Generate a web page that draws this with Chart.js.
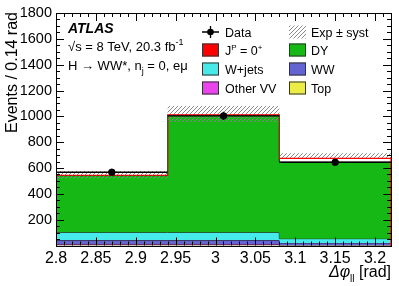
<!DOCTYPE html>
<html>
<head>
<meta charset="utf-8">
<script src="https://cdn.jsdelivr.net/npm/chart.js@4.4.0/dist/chart.umd.min.js"></script>
<style>
  html, body { margin: 0; padding: 0; background: #fff; }
</style>
</head>
<body>
<canvas id="chart" width="399" height="286"></canvas>
<script>
// bins in delta phi_ll (rad)
var binEdges = [2.8, 2.94, 3.08, 3.22];
var binCenters = [2.87, 3.01, 3.15];

// observed events
var dataCounts = [567, 1003, 644];

// stacked expectation, bottom to top
var topBkg = [4, 4, 2];
var otherVV = [7, 7, 2];
var wwBkg = [31, 31, 16];
var wjets = [60, 60, 33];
var dyBkg = [439, 906, 594];
var signal0p = [3, 3, 28];

// total expectation +- syst
var systDown = [515, 957, 672];
var systUp = [575, 1080, 714];

var xTickValues = [2.8, 2.85, 2.9, 2.95, 3, 3.05, 3.1, 3.15, 3.2];
var yTickValues = [200, 400, 600, 800, 1000, 1200, 1400, 1600, 1800];

var FONT = 'Liberation Sans, Arial, Helvetica, sans-serif';

var colGreen = 'rgb(22,184,22)';
var colCyan = 'rgb(70,234,234)';
var colBlue = 'rgb(100,100,208)';
var colMagenta = 'rgb(236,68,236)';
var colYellow = 'rgb(236,236,72)';
var colRed = 'rgb(255,0,0)';

// turn bin contents into step points (left edges + final right edge)
function steps(vals) {
    return binEdges.map(function (e, i) {
        return { x: e, y: vals[Math.min(i, vals.length - 1)] };
    });
}

var running = [0, 0, 0];
function addUp(vals) {
    running = running.map(function (r, i) { return r + vals[i]; });
    return running.slice();
}
var cumTop = addUp(topBkg);
var cumVV = addUp(otherVV);
var cumWW = addUp(wwBkg);
var cumWj = addUp(wjets);
var cumDY = addUp(dyBkg);
var cumSig = addUp(signal0p);

var sigOutline = [{ x: binEdges[0], y: 0 }].concat(steps(cumSig), [{ x: binEdges[binEdges.length - 1], y: 0 }]);

// hatch pattern for the syst band
function makeHatch(color) {
    var c = document.createElement('canvas');
    c.width = 4; c.height = 4;
    var g = c.getContext('2d');
    g.strokeStyle = color;
    g.lineWidth = 1;
    g.beginPath();
    g.moveTo(0, 4); g.lineTo(4, 0);
    g.moveTo(-1, 1); g.lineTo(1, -1);
    g.moveTo(3, 5); g.lineTo(5, 3);
    g.stroke();
    return g.createPattern(c, 'repeat');
}
var ctx = document.getElementById('chart').getContext('2d');
var hatch = makeHatch('#8a8a8a');

function stackSet(label, vals, color, fill, order) {
    return {
        label: label,
        data: steps(vals),
        stepped: true,
        backgroundColor: color,
        borderColor: '#1a1a1a',
        borderWidth: 1,
        pointRadius: 0,
        fill: fill,
        order: order
    };
}

var frameTicks = {
    id: 'frameTicks',
    afterDatasetsDraw: function (chart) {
        var a = chart.chartArea, xs = chart.scales.x, ys = chart.scales.y;
        var c = chart.ctx;
        c.save();
        c.strokeStyle = '#000';
        c.lineWidth = 1;
        c.beginPath();
        for (var i = 280; i <= 322; i++) {
            var px = Math.round(xs.getPixelForValue(i / 100)) + 0.5;
            var len = (i % 5 === 0) ? 8 : 4;
            c.moveTo(px, a.bottom); c.lineTo(px, a.bottom - len);
            c.moveTo(px, a.top); c.lineTo(px, a.top + len);
        }
        for (var v = 0; v <= 1800; v += 50) {
            var py = Math.round(ys.getPixelForValue(v)) + 0.5;
            var l2 = (v % 200 === 0) ? 8 : 4;
            c.moveTo(a.left, py); c.lineTo(a.left + l2, py);
            c.moveTo(a.right, py); c.lineTo(a.right - l2, py);
        }
        c.stroke();
        c.strokeRect(Math.round(a.left) + 0.5, Math.round(a.top) + 0.5,
            Math.round(a.right - a.left), Math.round(a.bottom - a.top));
        c.restore();
    }
};

var errorBars = {
    id: 'errorBars',
    afterDatasetsDraw: function (chart) {
        var xs = chart.scales.x, ys = chart.scales.y, c = chart.ctx;
        c.save();
        c.strokeStyle = '#000';
        c.lineWidth = 1.3;
        c.beginPath();
        dataCounts.forEach(function (n, i) {
            var y = ys.getPixelForValue(n);
            c.moveTo(xs.getPixelForValue(binEdges[i]), y);
            c.lineTo(xs.getPixelForValue(binEdges[i + 1]), y);
            var xc = xs.getPixelForValue(binCenters[i]);
            var e = Math.sqrt(n);
            c.moveTo(xc, ys.getPixelForValue(n - e));
            c.lineTo(xc, ys.getPixelForValue(n + e));
        });
        c.stroke();
        c.restore();
    }
};

var legendItems = [
    { text: 'Data', type: 'data', col: 0, row: 0 },
    { text: 'Exp \u00b1 syst', type: 'hatch', col: 1, row: 0 },
    { text: 'J', sup: 'P', rest: ' = 0', sup2: '+', type: 'box', color: colRed, col: 0, row: 1 },
    { text: 'DY', type: 'box', color: colGreen, col: 1, row: 1 },
    { text: 'W+jets', type: 'box', color: colCyan, col: 0, row: 2 },
    { text: 'WW', type: 'box', color: colBlue, col: 1, row: 2 },
    { text: 'Other VV', type: 'box', color: colMagenta, col: 0, row: 3 },
    { text: 'Top', type: 'box', color: colYellow, col: 1, row: 3 }
];

var textsPlugin = {
    id: 'texts',
    afterDraw: function (chart) {
        var c = chart.ctx, a = chart.chartArea;
        c.save();
        c.fillStyle = '#000';
        c.textBaseline = 'alphabetic';

        // ATLAS label block
        c.font = 'italic bold 14px ' + FONT;
        c.fillText('ATLAS', 68, 33);
        c.font = '13px ' + FONT;
        var t = '\u221As = 8 TeV, 20.3 fb';
        c.fillText(t, 68, 51);
        var w = c.measureText(t).width;
        c.font = '9px ' + FONT;
        c.fillText('-1', 68 + w, 45);
        c.font = '13px ' + FONT;
        t = 'H \u2192 WW*, n';
        c.fillText(t, 68, 70);
        w = c.measureText(t).width;
        c.font = '9px ' + FONT;
        c.fillText('j', 68 + w, 74);
        var wj = c.measureText('j').width;
        c.font = '13px ' + FONT;
        c.fillText(' = 0, e\u03bc', 68 + w + wj, 70);

        // legend
        var colX = [202, 289], txtX = [225, 311], rowY = [32, 50, 69, 88];
        legendItems.forEach(function (it) {
            var x0 = colX[it.col], yc = rowY[it.row];
            if (it.type === 'data') {
                c.strokeStyle = '#000';
                c.lineWidth = 1.3;
                c.beginPath();
                c.moveTo(x0, yc); c.lineTo(x0 + 17, yc);
                c.moveTo(x0 + 8.5, yc - 6); c.lineTo(x0 + 8.5, yc + 6);
                c.stroke();
                c.beginPath();
                c.arc(x0 + 8.5, yc, 3.3, 0, Math.PI * 2);
                c.fillStyle = '#000';
                c.fill();
            } else if (it.type === 'hatch') {
                c.fillStyle = hatch;
                c.fillRect(x0, yc - 6.5, 17, 13);
            } else {
                c.fillStyle = it.color;
                c.fillRect(x0, yc - 6.5, 17, 13);
                c.strokeStyle = '#333';
                c.lineWidth = 1;
                c.strokeRect(x0 + 0.5, yc - 6, 16, 12);
            }
            c.fillStyle = '#000';
            c.font = '12.5px ' + FONT;
            var tx = txtX[it.col], by = yc + 4.5;
            c.fillText(it.text, tx, by);
            if (it.sup) {
                tx += c.measureText(it.text).width;
                c.font = '8px ' + FONT;
                c.fillText(it.sup, tx, by - 5);
                tx += c.measureText(it.sup).width;
                c.font = '12.5px ' + FONT;
                c.fillText(it.rest, tx, by);
                tx += c.measureText(it.rest).width;
                c.font = '8px ' + FONT;
                c.fillText(it.sup2, tx, by - 5);
            }
        });

        // x axis title, right aligned
        c.fillStyle = '#000';
        c.font = 'italic 16px ' + FONT;
        var p1 = '\u0394\u03c6';
        var w1 = c.measureText(p1).width;
        c.font = '10px ' + FONT;
        var w2 = c.measureText('ll').width;
        c.font = '16px ' + FONT;
        var p3 = ' [rad]';
        var w3 = c.measureText(p3).width;
        var sx = a.right - (w1 + w2 + w3);
        c.font = 'italic 16px ' + FONT;
        c.fillText(p1, sx, 277);
        c.font = '10px ' + FONT;
        c.fillText('ll', sx + w1, 282);
        c.font = '16px ' + FONT;
        c.fillText(p3, sx + w1 + w2, 277);

        // y axis title, top aligned
        c.translate(17, a.top - 1);
        c.rotate(-Math.PI / 2);
        c.textAlign = 'right';
        c.font = '16px ' + FONT;
        c.fillText('Events / 0.14 rad', 0, 0);
        c.restore();
    }
};

new Chart(ctx, {
    type: 'line',
    data: {
        datasets: [
            stackSet('Top', cumTop, colYellow, 'origin', 10),
            stackSet('Other VV', cumVV, colMagenta, '-1', 9),
            stackSet('WW', cumWW, colBlue, '-1', 8),
            stackSet('W+jets', cumWj, colCyan, '-1', 7),
            stackSet('DY', cumDY, colGreen, '-1', 6),
            {
                label: 'syst down',
                data: steps(systDown),
                stepped: true,
                borderWidth: 0,
                borderColor: 'rgba(0,0,0,0)',
                pointRadius: 0,
                fill: false,
                order: 5
            },
            {
                label: 'Exp \u00b1 syst',
                data: steps(systUp),
                stepped: true,
                borderWidth: 0,
                borderColor: 'rgba(0,0,0,0)',
                backgroundColor: hatch,
                pointRadius: 0,
                fill: '-1',
                order: 4
            },
            {
                label: 'JP = 0+',
                data: sigOutline,
                stepped: true,
                borderColor: colRed,
                borderWidth: 1.2,
                pointRadius: 0,
                fill: false,
                order: 3
            },
            {
                label: 'Data',
                data: binCenters.map(function (x, i) { return { x: x, y: dataCounts[i] }; }),
                showLine: false,
                pointRadius: 3.3,
                pointBackgroundColor: '#000',
                pointBorderColor: '#000',
                order: 1
            }
        ]
    },
    options: {
        responsive: false,
        animation: false,
        devicePixelRatio: 1,
        layout: { padding: { top: 13, right: 8, left: 0, bottom: 0 } },
        plugins: {
            legend: { display: false },
            tooltip: { enabled: false }
        },
        scales: {
            x: {
                type: 'linear',
                min: 2.8,
                max: 3.22,
                grid: { display: false, drawTicks: false },
                border: { display: false },
                afterBuildTicks: function (s) {
                    s.ticks = xTickValues.map(function (v) { return { value: v }; });
                },
                afterFit: function (s) { s.height = 40.5; },
                ticks: {
                    autoSkip: false,
                    maxRotation: 0,
                    padding: 3,
                    color: '#000',
                    font: { family: FONT, size: 16 },
                    callback: function (v) { return String(+Number(v).toFixed(2)); }
                }
            },
            y: {
                min: 0,
                max: 1800,
                grid: { display: false, drawTicks: false },
                border: { display: false },
                afterBuildTicks: function (s) {
                    s.ticks = yTickValues.map(function (v) { return { value: v }; });
                },
                afterFit: function (s) { s.width = 56; },
                ticks: {
                    padding: 4,
                    color: '#000',
                    font: { family: FONT, size: 14.5 },
                    callback: function (v) { return String(v); }
                }
            }
        }
    },
    plugins: [frameTicks, errorBars, textsPlugin]
});
</script>
</body>
</html>
